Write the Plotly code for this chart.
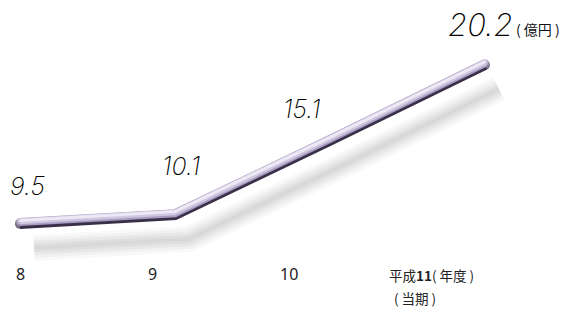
import plotly.graph_objects as go

# data
years = [8, 9, 10, 11]
sales = [9.5, 10.1, 15.1, 20.2]
value_labels = ["9.5", "10.1", "15.1", "20.2"]
tick_labels = ["8", "9", "10", "平成<b>11</b>( 年度 )"]
unit_label = "( 億円 )"
sub_label = "( 当期 )"

W, H = 575, 323
x_range = [7.871, 11.581]
y_range = [2.76, 24.51]
px_x = W / (x_range[1] - x_range[0])
px_y = H / (y_range[1] - y_range[0])

def off(dx_px, dy_px):
    return ([v + dx_px / px_x for v in years], [v - dy_px / px_y for v in sales])

fig = go.Figure()

# shadow (blurred, offset down-right)
for w, a in [(26, 0.035), (20, 0.045), (14, 0.055), (8, 0.06), (3, 0.04)]:
    xs, ys = off(14, 25)
    fig.add_trace(go.Scatter(x=xs, y=ys, mode="lines",
                             line=dict(color=f"rgba(80,80,80,{a})", width=w),
                             hoverinfo="skip", showlegend=False))

ends = [1 if i in (0, len(years) - 1) else 0 for i in range(len(years))]

# tube: dark base, mid lavender, highlight
layers = [(1.0, 10, "#3a2f48"), (-0.8, 8, "#a89cc0"), (-1.6, 6, "#cfc6e0"), (-2.4, 3, "#ece8f4")]
for dy, w, c in layers:
    xs, ys = off(0, dy)
    fig.add_trace(go.Scatter(x=xs, y=ys, mode="lines+markers",
                             line=dict(color=c, width=w),
                             marker=dict(color=c, size=[e * w for e in ends], line=dict(width=0)),
                             hoverinfo="skip", showlegend=False))

# value labels
label_shifts = [(8, 37), (6, 48), (-28, 31), (-4, 40)]
label_sizes = [25, 25, 25, 31]
for x, y, t, (sx, sy), s in zip(years, sales, value_labels, label_shifts, label_sizes):
    fig.add_annotation(x=x, y=y, text=t, showarrow=False, xshift=sx, yshift=sy,
                       font=dict(family="Inter, Roboto", size=s, color="#000",
                                 weight=200, style="italic"))

fig.add_annotation(x=years[-1], y=sales[-1], text=unit_label, showarrow=False,
                   xanchor="left", xshift=29, yshift=35,
                   font=dict(family="Noto Sans CJK JP", size=14, color="#111"))

# category labels
tick_shifts = [1, -22, -41, -98]
for i, (x, t, sx) in enumerate(zip(years, tick_labels, tick_shifts)):
    fig.add_annotation(x=x, y=(H - 287) / H, yref="paper", text=t, showarrow=False,
                       xanchor="center" if i < 3 else "left", xshift=sx,
                       font=dict(family="Noto Sans, Noto Sans CJK JP" if i < 3 else "Noto Sans CJK JP",
                                 size=16 if i < 3 else 13.5, color="#222"))
fig.add_annotation(x=years[-1], y=(H - 310) / H, yref="paper", text=sub_label, showarrow=False,
                   xanchor="left", xshift=-93,
                   font=dict(family="Noto Sans CJK JP", size=13.5, color="#222"))

fig.update_layout(
    width=W, height=H, margin=dict(l=0, r=0, t=0, b=0),
    paper_bgcolor="white", plot_bgcolor="white",
    xaxis=dict(range=x_range, visible=False, fixedrange=True),
    yaxis=dict(range=y_range, visible=False, fixedrange=True),
    showlegend=False,
)

fig.write_html("out.html")
